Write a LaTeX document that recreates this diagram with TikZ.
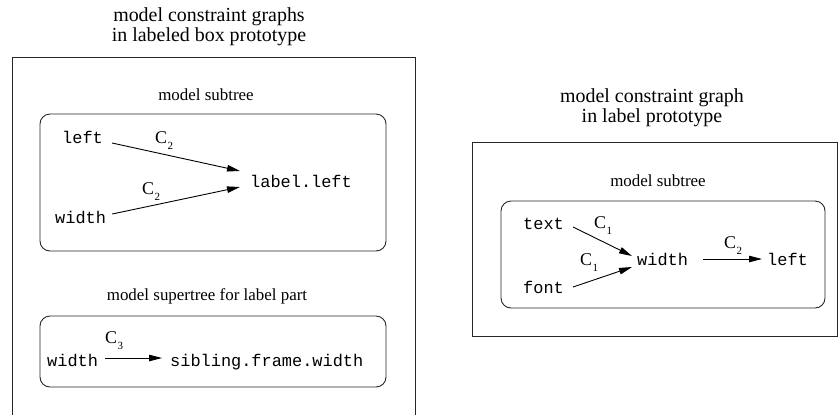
\documentclass[tikz,border=0pt]{standalone}
\usepackage{fontspec}
\setmainfont{Liberation Serif}
\setmonofont{Liberation Mono}
\usetikzlibrary{arrows.meta}
\begin{document}
\begin{tikzpicture}[x=1bp,y=-1bp,
  title/.style={font=\fontsize{20}{21}\selectfont, align=center, inner sep=0pt, anchor=north},
  sub/.style={font=\fontsize{17}{19}\selectfont, inner sep=0pt, anchor=base},
  code/.style={font=\ttfamily\fontsize{17}{19}\selectfont, inner sep=0pt, anchor=base west},
  cl/.style={font=\fontsize{18}{20}\selectfont, inner sep=0pt, anchor=base west},
  frame/.style={draw=black!85, line width=0.9bp},
  rbox/.style={draw=black!85, line width=0.9bp, rounded corners=10bp},
  arr/.style={draw, line width=0.9bp, -{Triangle[length=13bp,width=6.5bp]}}]
\newcommand{\Csub}[1]{C\kern0.5bp\raisebox{-6bp}{\fontsize{11}{11}\selectfont #1}}
\useasboundingbox (0,0) rectangle (838,414);

% ---- left part ----
\node[title] (tl) at (209,7) {model constraint graphs\\in labeled box prototype};
\draw[frame] (12,420) -- (12,57) -- (415,57) -- (415,420);

\node[sub] (s1) at (206,100) {model subtree};
\draw[rbox] (40,114) rectangle (386,251);
\node[code] (l1) at (62,143) {left};
\node[code] (ll) at (250,187) {label.left};
\node[code] (w1) at (55,223) {width};
\node[cl] (c2a) at (155,143) {\Csub{2}};
\node[cl] (c2b) at (142,194) {\Csub{2}};
\draw[arr] ([shift={(9,0)}]l1.base east) -- ([shift={(-10,-16)}]ll.base west);
\draw[arr] ([shift={(6,-9)}]w1.base east) -- ([shift={(-10,0)}]ll.base west);

\node[sub] (s2) at (207,300) {model supertree for label part};
\draw[rbox] (40,316) rectangle (386,387);
\node[code] (w2) at (47,366) {width};
\node[code] (sib) at (170,366) {sibling.frame.width};
\node[cl] (c3) at (105,343) {\Csub{3}};
\draw[arr] ([shift={(7,-8)}]w2.base east) -- ([shift={(-8,-8)}]sib.base west);

% ---- right part ----
\node[title] (tr) at (652,88) {model constraint graph\\in label prototype};
\draw[frame] (472,142) rectangle (837,336);
\node[sub] (s3) at (658,186) {model subtree};
\draw[rbox] (501,201) rectangle (825,308);
\node[code] (tx) at (523,229) {text};
\node[code] (ft) at (523,293) {font};
\node[code] (wr) at (637,265) {width};
\node[code] (lr) at (767,265) {left};
\node[cl] (c1a) at (594,228) {\Csub{1}};
\node[cl] (c1b) at (580,265) {\Csub{1}};
\node[cl] (c2r) at (724,248) {\Csub{2}};
\draw[arr] ([shift={(9,-2)}]tx.base east) -- ([shift={(-5,-9)}]wr.base west);
\draw[arr] ([shift={(9,-6)}]ft.base east) -- ([shift={(-5,2)}]wr.base west);
\draw[arr] ([shift={(15,-6)}]wr.base east) -- ([shift={(-5,-6)}]lr.base west);
\end{tikzpicture}
\end{document}
